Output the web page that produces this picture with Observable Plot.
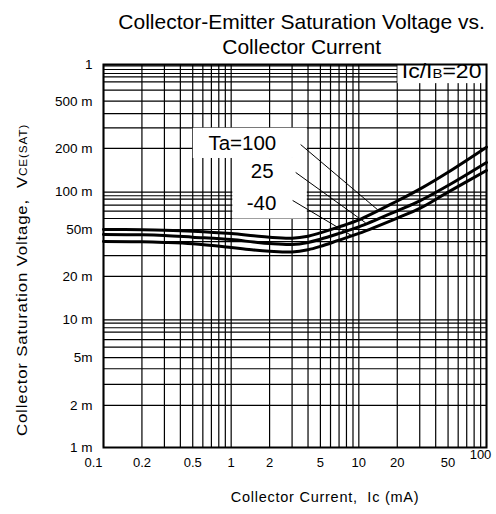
<!DOCTYPE html>
<html><head><meta charset="utf-8">
<script src="https://cdn.jsdelivr.net/npm/d3@7"></script>
<script src="https://cdn.jsdelivr.net/npm/@observablehq/plot@0.6"></script>
<style>body{margin:0;background:#fff} svg{display:block}</style>
</head><body><div id="chart"></div>
<script>
// ---- data ----
const currents  = [0.1, 0.2, 0.3, 0.5, 1, 1.5, 2, 3, 4, 5, 7, 10, 20, 30, 50, 100];           // Ic (mA)
const vceTa100  = [0.0510, 0.0508, 0.0504, 0.0495, 0.0474, 0.0455, 0.0443, 0.0436, 0.0452, 0.0480, 0.0534, 0.0606, 0.0853, 0.1057, 0.1434, 0.2253];
const vceTa25   = [0.0467, 0.0464, 0.0458, 0.0444, 0.0425, 0.0407, 0.0396, 0.0389, 0.0404, 0.0428, 0.0475, 0.0534, 0.0715, 0.0855, 0.1128, 0.1709];
const vceTaM40  = [0.0411, 0.0409, 0.0404, 0.0394, 0.0369, 0.0353, 0.0345, 0.0340, 0.0354, 0.0376, 0.0421, 0.0475, 0.0627, 0.0746, 0.1000, 0.1479];
const seriesNames = ["Ta=100", "25", "-40"];

const xGridValues = [0.1,0.2,0.3,0.4,0.5,0.6,0.7,0.8,0.9, 1,2,3,4,5,6,7,8,9, 10,20,30,40,50,60,70,80,90, 100];
const yGridValues = [1, 0.977, 0.914, 0.85, 0.801, 0.732, 0.629, 0.516, 0.413, 0.319, 0.22,
                     0.1, 0.0937, 0.0881, 0.0791, 0.071, 0.0622, 0.051, 0.041, 0.0318, 0.0219,
                     0.01, 0.00942, 0.00867, 0.00801, 0.00699, 0.00611, 0.00505, 0.00414, 0.00312, 0.00214, 0.001];

const xTickValues = [0.1, 0.2, 0.5, 1, 2, 5, 10, 20, 50, 100];
const xTickLabels = ["0.1", "0.2", "0.5", "1", "2", "5", "10", "20", "50", "100"];
const yTickValues = [1, 0.516, 0.22, 0.1, 0.051, 0.0219, 0.01, 0.00505, 0.00214, 0.001];
const yTickLabels = ["1", "500 m", "200 m", "100 m", "50m", "20 m", "10 m", "5m", "2 m", "1 m"];

// ---- tidy table for Plot ----
const rows = [];
[vceTa100, vceTa25, vceTaM40].forEach((arr, k) =>
  arr.forEach((v, i) => rows.push({series: seriesNames[k], ic: currents[i], vce: v})));

// annotation geometry (data coordinates)
const whiteBoxes = [
  {x1: 0.505, x2: 3.95, y1: 0.1836, y2: 0.317},
  {x1: 1.03,  x2: 3.95, y1: 0.0615, y2: 0.1836},
  {x1: 20.25, x2: 100,  y1: 0.708,  y2: 1}
];
const leaders = [
  {x1: 3.50, y1: 0.236,  x2: 14.0, y2: 0.073},
  {x1: 3.20, y1: 0.1427, x2: 11.3, y2: 0.0575},
  {x1: 3.03, y1: 0.0861, x2: 8.94, y2: 0.0452}
];
const curveLabels = [
  {x: 1.222, y: 0.2388, text: "Ta=100"},
  {x: 1.752, y: 0.1442, text: "25"},
  {x: 1.731, y: 0.081,  text: "-40"}
];

const font = '"Liberation Sans", Arial, Helvetica, sans-serif';

const chart = Plot.plot({
  width: 496, height: 514,
  marginLeft: 103, marginRight: 10, marginTop: 64, marginBottom: 67,
  style: {fontFamily: font, background: "white", color: "black"},
  x: {type: "log", domain: [0.1, 100], axis: null},
  y: {type: "log", domain: [0.001, 1], axis: null},
  marks: [
    Plot.ruleX(xGridValues, {x: d => d, stroke: "black", strokeWidth: 1.2}),
    Plot.ruleY(yGridValues, {y: d => d, stroke: "black", strokeWidth: 1.2}),
    Plot.rect(whiteBoxes, {x1: "x1", x2: "x2", y1: "y1", y2: "y2", fill: "white"}),
    Plot.frame({stroke: "black", strokeWidth: 2}),
    Plot.line(rows, {x: "ic", y: "vce", z: "series", stroke: "black", strokeWidth: 3, curve: "catmull-rom"}),
    Plot.link(leaders, {x1: "x1", y1: "y1", x2: "x2", y2: "y2", stroke: "black", strokeWidth: 1}),
    Plot.text(curveLabels, {x: "x", y: "y", text: "text", fontSize: 20.5, lineAnchor: "middle", fill: "black"}),
    // x tick labels
    Plot.text(xTickValues, {x: d => d, text: (d, i) => xTickLabels[i], filter: d => d > 0.1 && d < 100,
      frameAnchor: "bottom", dy: 15, fontSize: 13, lineAnchor: "middle", fill: "black"}),
    Plot.text(xTickValues, {x: d => d, text: (d, i) => xTickLabels[i], filter: d => d === 0.1,
      frameAnchor: "bottom", dx: -10, dy: 15, fontSize: 13, lineAnchor: "middle", fill: "black"}),
    Plot.text(xTickValues, {x: d => d, text: (d, i) => xTickLabels[i], filter: d => d === 100,
      frameAnchor: "bottom", dx: -6, dy: 7, fontSize: 13, lineAnchor: "middle", fill: "black"}),
    // y tick labels
    Plot.text(yTickValues, {y: d => d, text: (d, i) => yTickLabels[i], frameAnchor: "left",
      textAnchor: "end", dx: -11, fontSize: 13.5, lineAnchor: "middle", fill: "black"}),
    // title
    Plot.text(["Collector-Emitter Saturation Voltage vs."], {text: d => d, frameAnchor: "top",
      dx: 6.6, dy: -36, lineAnchor: "bottom", fontSize: 21, fill: "black"}),
    Plot.text(["Collector Current"], {text: d => d, frameAnchor: "top",
      dx: 6.6, dy: -11, lineAnchor: "bottom", fontSize: 21, fill: "black"})
  ]
});

document.getElementById("chart").appendChild(chart);

// labels with subscripts / custom spacing
const sx = chart.scale("x"), sy = chart.scale("y");
const svg = d3.select(chart);
const rx = sx.apply(21.9), ry = sy.apply(0.773);
const ratio = svg.append("text")
  .attr("x", 0).attr("y", 0)
  .attr("transform", "translate(" + rx + "," + ry + ") scale(1.15,1)")
  .attr("font-size", 20).attr("fill", "black").attr("font-family", font)
  .attr("text-anchor", "start");
ratio.append("tspan").text("Ic/I");
ratio.append("tspan").attr("font-size", 13).text("B");
ratio.append("tspan").text("=20");

svg.append("text")
  .attr("x", 325).attr("y", 502)
  .attr("text-anchor", "middle").attr("font-size", 14.5).attr("fill", "black")
  .attr("font-family", font).attr("letter-spacing", 0.75).style("white-space", "pre")
  .text("Collector Current,  Ic (mA)");

const ylab = svg.append("text")
  .attr("transform", "translate(27,280) rotate(-90) scale(1.12,1)")
  .attr("text-anchor", "middle").attr("font-size", 15).attr("fill", "black")
  .attr("letter-spacing", 0.75)
  .attr("font-family", font).style("white-space", "pre");
ylab.append("tspan").text("Collector Saturation Voltage,  V");
ylab.append("tspan").attr("font-size", 10.5).text("CE(SAT)");
</script>
</body></html>
